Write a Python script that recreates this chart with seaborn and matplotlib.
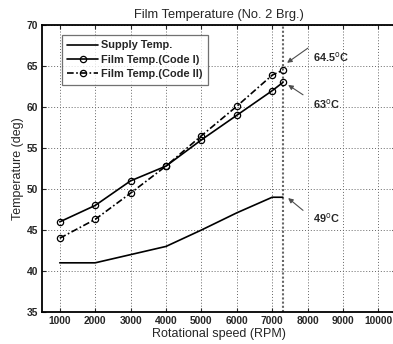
import matplotlib
matplotlib.use("Agg")
import matplotlib.pyplot as plt
import seaborn as sns

# data
rpm = [1000, 2000, 3000, 4000, 5000, 6000, 7000, 7300]
supply_temp = [41.0, 41.0, 42.0, 43.0, 45.0, 47.1, 49.0, 49.0]
film_code1 = [46.0, 48.0, 51.0, 52.8, 56.0, 59.0, 62.0, 63.0]
film_code2 = [44.0, 46.3, 49.5, 52.8, 56.5, 60.1, 63.9, 64.5]
x_ticks = [1000, 2000, 3000, 4000, 5000, 6000, 7000, 8000, 9000, 10000]
y_ticks = [35, 40, 45, 50, 55, 60, 65, 70]
max_rpm = 7300

sns.set_theme(style="white")
plt.rcParams["font.family"] = ["Liberation Sans", "DejaVu Sans"]

fig = plt.figure(figsize=(3.93, 3.44), dpi=100)
ax = fig.add_axes([0.107, 0.093, 0.901, 0.834])

sns.lineplot(x=rpm, y=supply_temp, ax=ax, color="black", lw=1.2,
             label="Supply Temp.")
sns.lineplot(x=rpm, y=film_code1, ax=ax, color="black", lw=1.2, marker="o",
             markersize=4.5, markerfacecolor="none", markeredgecolor="black",
             markeredgewidth=0.9, label="Film Temp.(Code I)")
sns.lineplot(x=rpm, y=film_code2, ax=ax, color="black", lw=1.2, marker="o",
             markersize=4.5, markerfacecolor="none", markeredgecolor="black",
             markeredgewidth=0.9, label="Film Temp.(Code II)")
ax.lines[-1].set_linestyle((0, (4, 1.5, 1, 1.5)))

ax.axvline(max_rpm, color="0.4", ls=(0, (1, 1)), lw=1.5, zorder=1)

ax.set_xlim(500, 10500)
ax.set_ylim(35, 70)
ax.set_xticks(x_ticks)
ax.set_yticks(y_ticks)
ax.grid(True, color="0.4", ls=(0, (1, 2)), lw=0.7)
ax.tick_params(direction="in", length=3, width=0.8, labelsize=7.4, pad=3,
               top=True, right=True, bottom=True, left=True)
for lbl in ax.get_xticklabels() + ax.get_yticklabels():
    lbl.set_fontweight("bold")
for sp in ax.spines.values():
    sp.set_color("black")
    sp.set_linewidth(1.3)

ax.set_xlabel("Rotational speed (RPM)", fontsize=9, labelpad=1)
ax.set_ylabel("Temperature (deg)", fontsize=9, labelpad=2)
ax.set_title("Film Temperature (No. 2 Brg.)", fontsize=9.3, pad=5)

leg = ax.legend(loc="upper left", bbox_to_anchor=(0.04, 0.985), fontsize=7.9,
                frameon=True, fancybox=False, handlelength=2.8,
                borderpad=0.5, labelspacing=0.4, handletextpad=0.3)
leg.get_frame().set_edgecolor("0.3")
leg.get_frame().set_linewidth(0.9)
for t in leg.get_texts():
    t.set_fontweight("bold")

arrow = dict(arrowstyle="-|>", color="0.3", lw=0.8, mutation_scale=7,
             shrinkA=0, shrinkB=0)
# (label, arrow tip, arrow tail, text position)
notes = [
    (r"64.5$^\mathrm{o}$C", (7420, 65.4), (8010, 67.2), (8150, 66.1)),
    (r"63$^\mathrm{o}$C", (7450, 62.7), (7870, 61.5), (8150, 60.4)),
    (r"49$^\mathrm{o}$C", (7450, 48.9), (7870, 47.4), (8150, 46.5)),
]
for label, tip, tail, pos in notes:
    ax.annotate("", xy=tip, xytext=tail, arrowprops=arrow)
    ax.text(pos[0], pos[1], label, fontsize=7.8, fontweight="bold",
            va="center", ha="left")

fig.savefig("out.png", dpi=100)
